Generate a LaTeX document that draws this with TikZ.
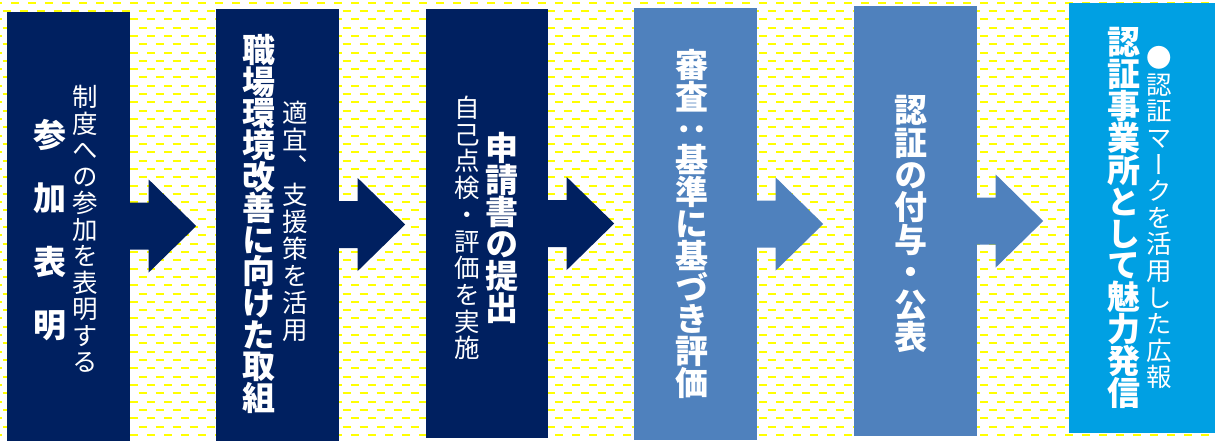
\documentclass[tikz,border=0pt]{standalone}
\usepackage{fontspec}
\newfontfamily\jp[RawFeature=+vert]{Noto Sans CJK JP}
\usetikzlibrary{calc}
\definecolor{navy}{HTML}{002060}
\definecolor{steel}{HTML}{4F81BD}
\definecolor{sky}{HTML}{00A0E3}
\definecolor{dashy}{HTML}{FFFF00}
\makeatletter
\newcommand\vstk[2]{\vbox{\offinterlineskip\@tfor\vch:=#2\do{\hbox to 1.2em{\hss\vbox to #1{\vss\hbox{\vrule height .88em depth .12em width 0pt\vch}\vss}\hss}}}}
\makeatother
\newcommand\blkarrow[2]{\fill[#2] (#1.east) ++(0,-23.5) -- ++(18.5,0) -- ++(0,-23) -- ++(47.5,46.5) -- ++(-47.5,46.5) -- ++(0,-23) -- ++(-18.5,0) -- cycle;}
\tikzset{
  box/.style={rectangle, inner sep=0pt, draw=none},
  bigtxt/.style={inner sep=0pt, text=white, font=\jp\bfseries\fontsize{33pt}{33pt}\selectfont},
  smalltxt/.style={inner sep=0pt, text=white, font=\jp\fontsize{25.5pt}{25.5pt}\selectfont}
}
\begin{document}
\begin{tikzpicture}[x=1pt,y=-1pt]
\useasboundingbox (0,0) rectangle (1215,440);
\fill[white] (0,0) rectangle (1215,440);
\foreach \k [evaluate=\k as \yy using 2.7+8.31*\k, evaluate=\k as \ph using {ifthenelse(mod(\k,2)==0,5.7,14.3)}] in {0,...,52}
  \draw[dashy, line width=2pt, dash pattern=on 8pt off 9pt, dash phase=\ph pt] (0,\yy) -- (1215,\yy);

\node[box, fill=navy, minimum width=123pt, minimum height=429pt] (b1) at (68.5,226) {};
\node[box, fill=navy, minimum width=123pt, minimum height=432pt] (b2) at (277.5,224.5) {};
\node[box, fill=navy, minimum width=122pt, minimum height=429pt] (b3) at (487,223.5) {};
\node[box, fill=steel, minimum width=123pt, minimum height=432pt] (b4) at (695.5,224) {};
\node[box, fill=steel, minimum width=123pt, minimum height=430pt] (b5) at (915.5,221) {};
\node[box, fill=sky, minimum width=146pt, minimum height=430pt] (b6) at (1142,218) {};

\blkarrow{b1}{navy}
\blkarrow{b2}{navy}
\blkarrow{b3}{navy}
\blkarrow{b4}{steel}
\blkarrow{b5}{steel}

\node[bigtxt] (t1b) at (50,230) {\vstk{31.6pt}{参　加　表　明}};
\node[smalltxt] (t1s) at (85,229.5) {\vstk{26.5pt}{制度への参加を表明する}};

\node[bigtxt] (t2b) at (259,224) {\vstk{31.6pt}{職場環境改善に向けた取組}};
\node[smalltxt] (t2s) at (295,221.5) {\vstk{27.1pt}{適宜、支援策を活用}};

\node[bigtxt] (t3b) at (502,228) {\vstk{32pt}{申請書の提出}};
\node[smalltxt] (t3s) at (467,228) {\vstk{26.7pt}{自己点検・評価を実施}};

\node[bigtxt] (t4b) at (692,224) {\vstk{31.8pt}{審査：基準に基づき評価}};

\node[bigtxt] (t5b) at (911,223.5) {\vstk{32.4pt}{認証の付与・公表}};

\node[bigtxt] (t6b) at (1124,217.5) {\vstk{31.9pt}{認証事業所として魅力発信}};
\node[smalltxt] (t6s) at (1159,217.5) {\vstk{26.6pt}{●認証マークを活用した広報}};
\end{tikzpicture}
\end{document}
